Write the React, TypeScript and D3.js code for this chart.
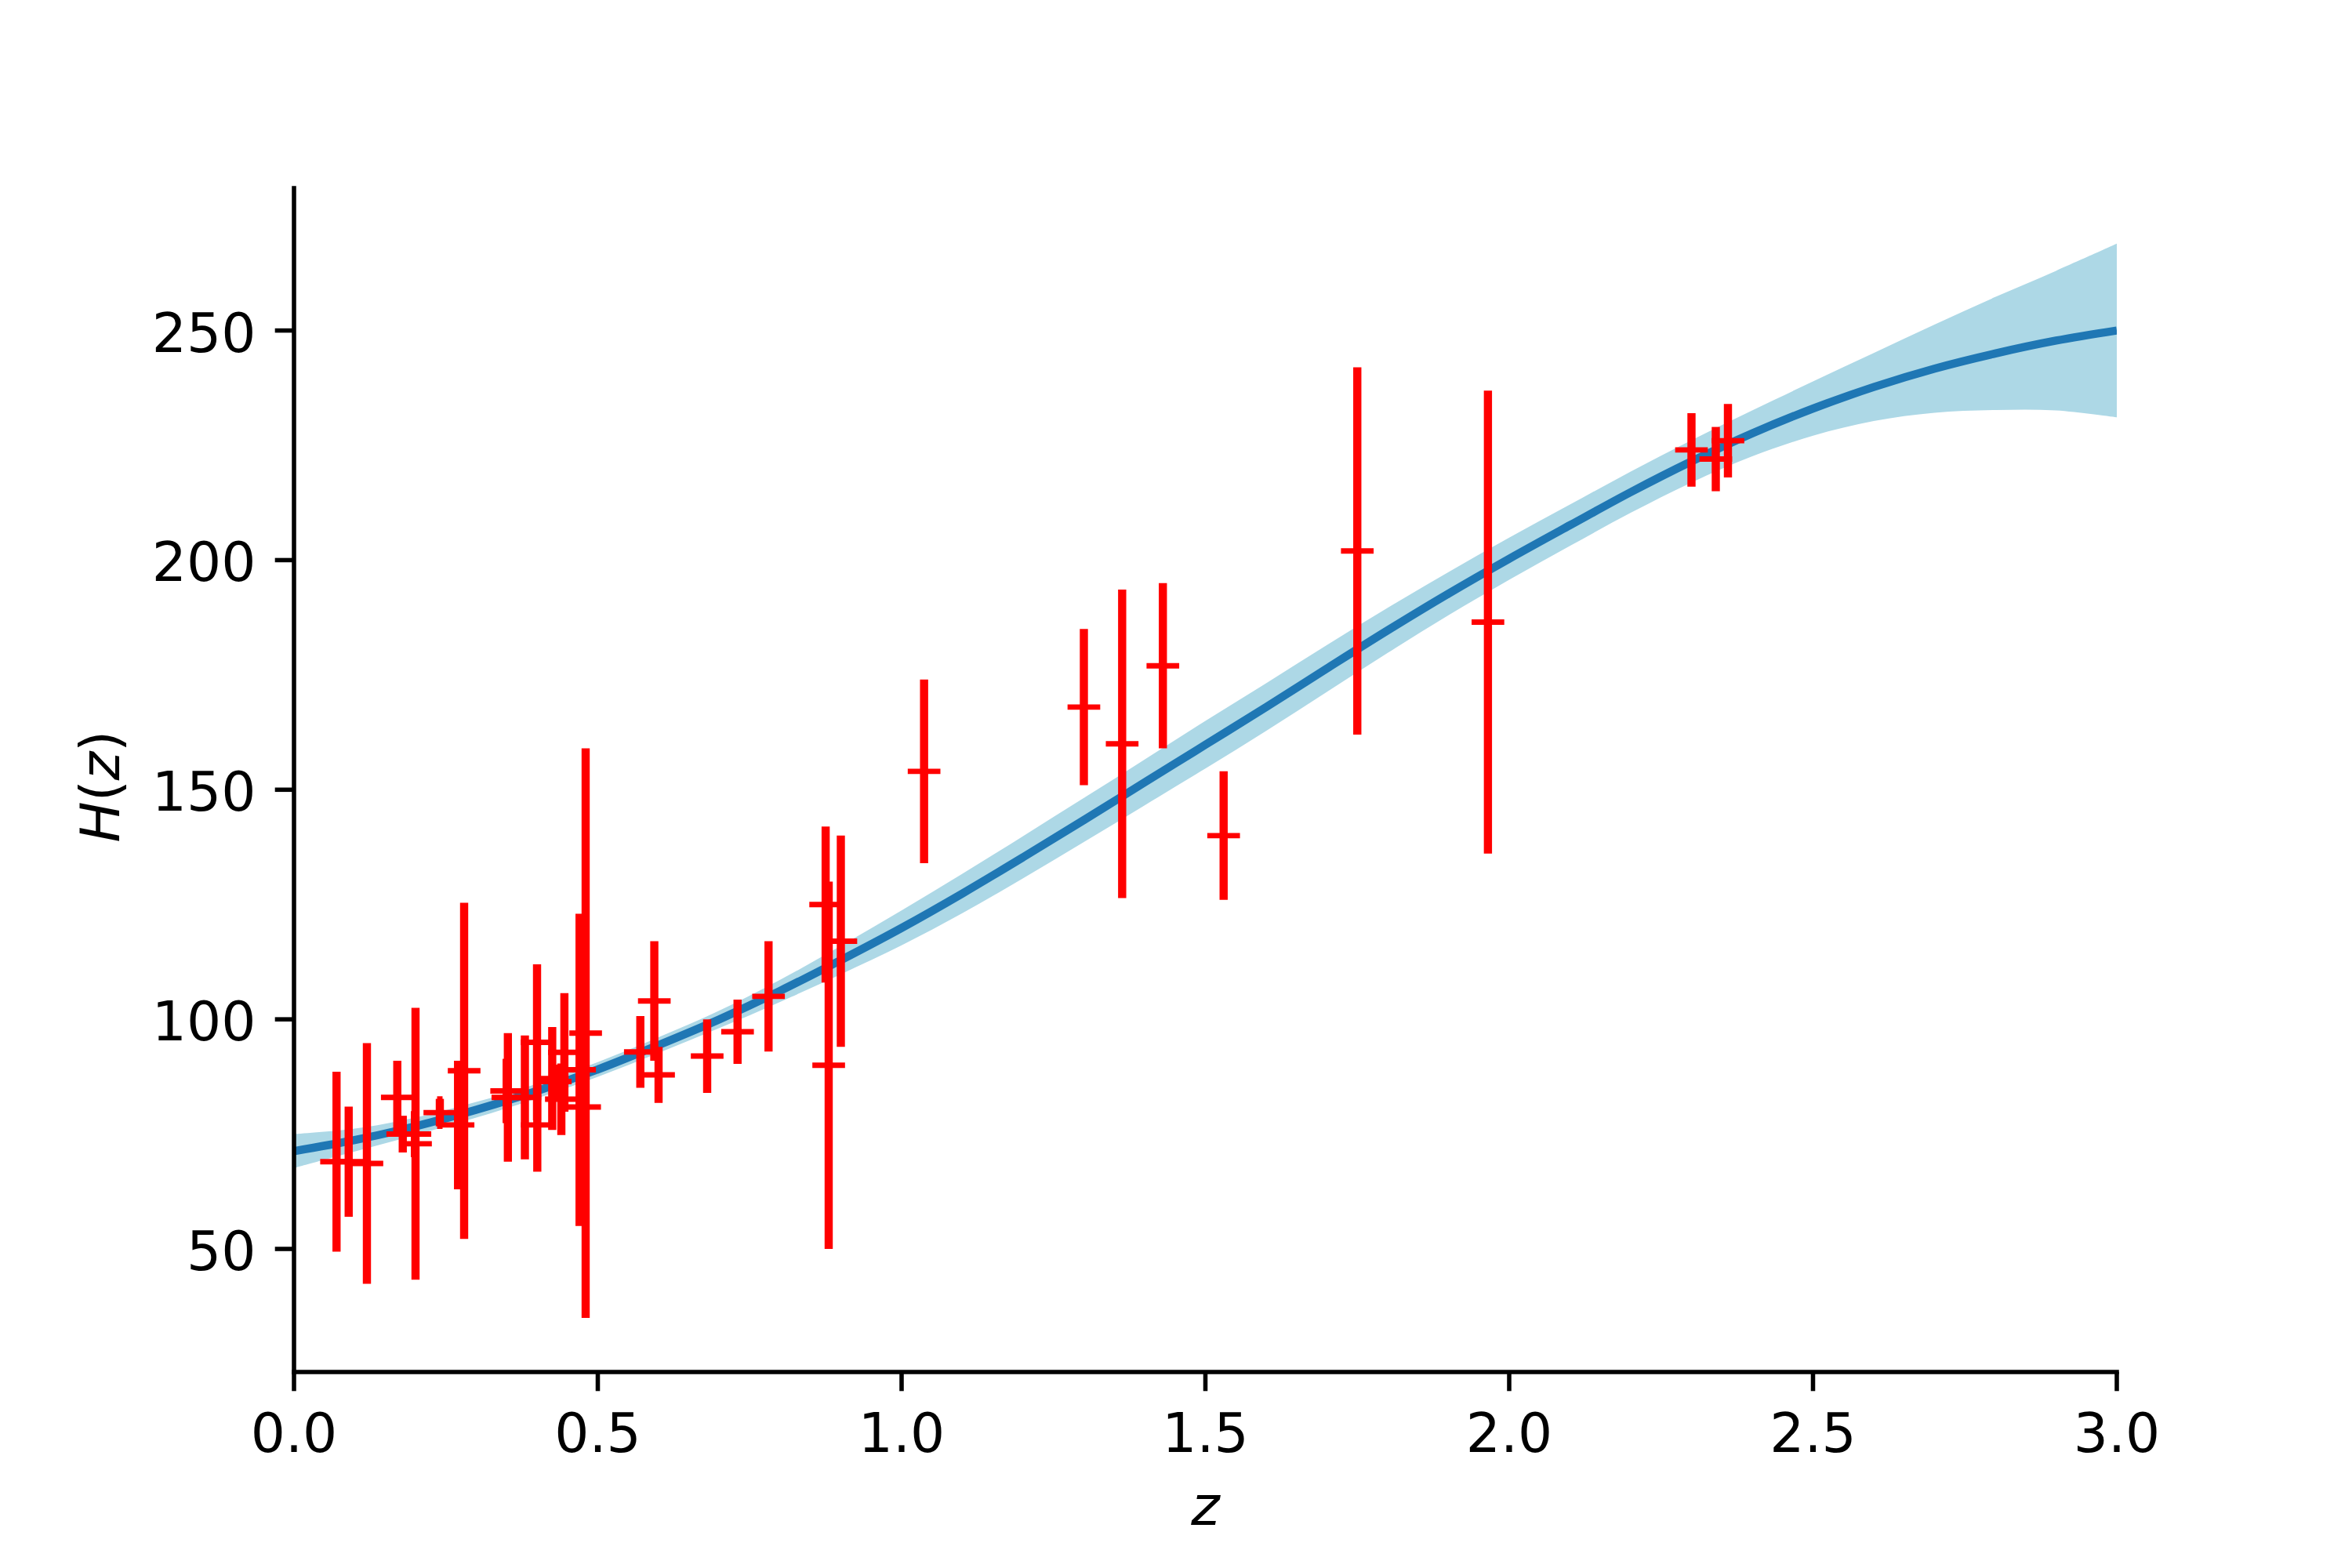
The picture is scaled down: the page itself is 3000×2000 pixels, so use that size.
import React from 'react';
import * as d3 from 'd3';

// Observational H(z) data: redshift, value, 1-sigma error
const zObs = [0.07, 0.09, 0.12, 0.17, 0.179, 0.199, 0.2, 0.24, 0.27, 0.28, 0.35, 0.352, 0.38, 0.4, 0.4004, 0.425, 0.43, 0.44, 0.445, 0.47, 0.4783, 0.48, 0.57, 0.593, 0.6, 0.68, 0.73, 0.781, 0.875, 0.88, 0.9, 1.037, 1.3, 1.363, 1.43, 1.53, 1.75, 1.965, 2.3, 2.34, 2.36];
const hObs = [69.0, 69.0, 68.6, 83.0, 75.0, 75.0, 72.9, 79.69, 77.0, 88.8, 84.4, 83.0, 83.0, 95.0, 77.0, 87.1, 86.45, 82.6, 92.8, 89.0, 80.9, 97.0, 92.9, 104.0, 87.9, 92.0, 97.3, 105.0, 125.0, 90.0, 117.0, 154.0, 168.0, 160.0, 177.0, 140.0, 202.0, 186.5, 224.0, 222.0, 226.0];
const sigObs = [19.6, 12.0, 26.2, 8.0, 4.0, 5.0, 29.6, 2.99, 14.0, 36.6, 7.0, 14.0, 13.5, 17.0, 10.2, 11.2, 3.68, 7.8, 12.9, 34.0, 9.0, 62.0, 7.8, 13.0, 6.1, 8.0, 7.0, 12.0, 17.0, 40.0, 23.0, 20.0, 17.0, 33.6, 18.0, 14.0, 40.0, 50.4, 8.0, 7.0, 8.0];

// Reconstructed curve (mean and 1-sigma half width)
const zGrid = [0.0, 0.1, 0.2, 0.3, 0.4, 0.5, 0.6, 0.7, 0.8, 0.9, 1.0, 1.1, 1.2, 1.3, 1.4, 1.5, 1.6, 1.7, 1.8, 1.9, 2.0, 2.1, 2.2, 2.3, 2.4, 2.5, 2.6, 2.7, 2.8, 2.9, 3.0];
const hMean = [71.3, 73.7, 76.7, 80.3, 84.4, 89.1, 94.4, 100.0, 106.2, 112.9, 119.9, 127.4, 135.3, 143.4, 151.6, 159.8, 168.0, 176.4, 184.7, 192.7, 200.3, 207.6, 214.8, 221.5, 227.6, 233.0, 237.7, 241.7, 245.0, 247.8, 250.0];
const hSigma = [3.7, 2.5, 1.9, 1.7, 1.6, 1.6, 1.7, 1.9, 2.4, 3.1, 3.8, 4.3, 4.6, 4.8, 5.0, 5.2, 5.2, 5.1, 4.9, 4.7, 4.6, 4.5, 4.5, 4.6, 5.0, 5.9, 7.4, 9.6, 12.3, 15.2, 18.9];

const xTicks = [0, 0.5, 1.0, 1.5, 2.0, 2.5, 3.0];
const yTicks = [50, 100, 150, 200, 250];

export default function App() {
  const W = 3000, H = 2000;
  const left = 375, right = 2700, top = 240, bottom = 1750;
  const pt = 500 / 72;
  const fs = 10 * pt;
  const x = d3.scaleLinear().domain([0, 3]).range([left, right]);
  const y = d3.scaleLinear().domain([23.2, 281.0]).range([bottom, top]);

  const grid = zGrid.map((z, i) => ({ z, m: hMean[i], s: hSigma[i] }));
  const curve = d3.curveCatmullRom.alpha(0.5);
  const area = d3.area<any>().x(d => x(d.z)).y0(d => y(d.m - d.s)).y1(d => y(d.m + d.s)).curve(curve);
  const line = d3.line<any>().x(d => x(d.z)).y(d => y(d.m)).curve(curve);

  const obs = zObs.map((z, i) => ({ z, h: hObs[i], s: sigObs[i] }));
  const ms = 6 * pt / 2;
  const fmt = d3.format('.1f');
  const font = "'DejaVu Sans', sans-serif";

  return (
    <svg width={W} height={H} viewBox={`0 0 ${W} ${H}`} style={{ position: 'absolute', left: 0, top: 0, background: '#fff' }}>
      <defs>
        <clipPath id="plotclip">
          <rect x={left} y={top} width={right - left} height={bottom - top} />
        </clipPath>
      </defs>
      <rect x={0} y={0} width={W} height={H} fill="#ffffff" />
      <g clipPath="url(#plotclip)">
        <path d={area(grid) || ''} fill="#add8e6" stroke="none" />
        <path d={line(grid) || ''} fill="none" stroke="#1f77b4" strokeWidth={1.5 * pt} strokeLinejoin="round" />
        {obs.map((d, i) => (
          <line key={'b' + i} x1={x(d.z)} x2={x(d.z)} y1={y(d.h - d.s)} y2={y(d.h + d.s)} stroke="#ff0000" strokeWidth={1.5 * pt} />
        ))}
        {obs.map((d, i) => (
          <g key={'m' + i} stroke="#ff0000" strokeWidth={1 * pt}>
            <line x1={x(d.z) - ms} x2={x(d.z) + ms} y1={y(d.h)} y2={y(d.h)} />
            <line x1={x(d.z)} x2={x(d.z)} y1={y(d.h) - ms} y2={y(d.h) + ms} />
          </g>
        ))}
      </g>
      {/* spines */}
      <line x1={left} x2={left} y1={top} y2={bottom} stroke="#000" strokeWidth={0.8 * pt} strokeLinecap="square" />
      <line x1={left} x2={right} y1={bottom} y2={bottom} stroke="#000" strokeWidth={0.8 * pt} strokeLinecap="square" />
      {/* x ticks */}
      {xTicks.map(t => (
        <g key={'xt' + t}>
          <line x1={x(t)} x2={x(t)} y1={bottom} y2={bottom + 3.5 * pt} stroke="#000" strokeWidth={0.8 * pt} />
          <text x={x(t)} y={1852} textAnchor="middle" fontFamily={font} fontSize={fs} fill="#000">{fmt(t)}</text>
        </g>
      ))}
      {/* y ticks */}
      {yTicks.map(t => (
        <g key={'yt' + t}>
          <line x1={left - 3.5 * pt} x2={left} y1={y(t)} y2={y(t)} stroke="#000" strokeWidth={0.8 * pt} />
          <text x={left - 7 * pt} y={y(t) + 27} textAnchor="end" fontFamily={font} fontSize={fs} fill="#000">{t}</text>
        </g>
      ))}
      <text x={(left + right) / 2} y={1945} textAnchor="middle" fontFamily={font} fontSize={fs} fontStyle="italic" fill="#000">z</text>
      <text transform={`translate(152,1003) rotate(-90)`} textAnchor="middle" fontFamily={font} fontSize={fs} fill="#000">
        <tspan fontStyle="italic">H</tspan><tspan>(</tspan><tspan fontStyle="italic">z</tspan><tspan>)</tspan>
      </text>
    </svg>
  );
}
